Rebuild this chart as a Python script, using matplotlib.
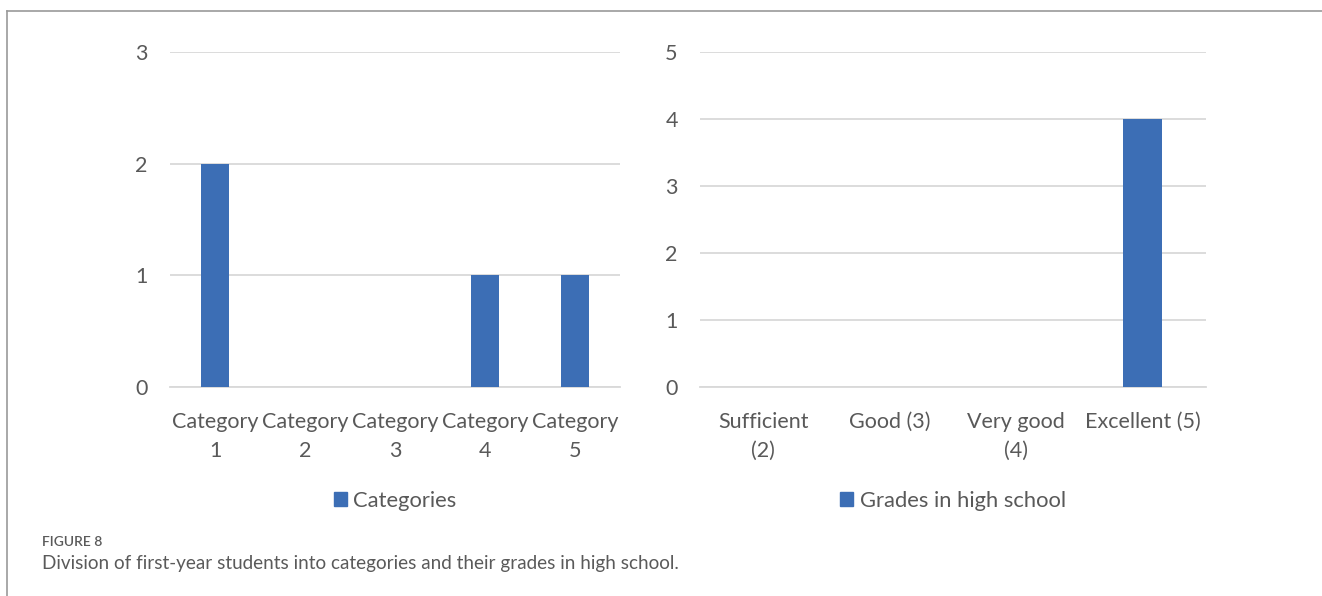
import matplotlib.pyplot as plt
from matplotlib.patches import Patch
from matplotlib.lines import Line2D

plt.rcParams['font.family'] = ['Lato', 'DejaVu Sans']

categorias = ['Category\n1', 'Category\n2', 'Category\n3', 'Category\n4', 'Category\n5']
valores_cat = [2, 0, 0, 1, 1]

notas = ['Sufficient\n(2)', 'Good (3)', 'Very good\n(4)', 'Excellent (5)']
valores_notas = [0, 0, 0, 4]

azul = '#3c6eb5'
cinza_txt = '#595959'
cinza_grade = '#d9d9d9'

W, H = 1322, 596
fig = plt.figure(figsize=(W / 100, H / 100), dpi=100)

def eixo(x0, x1, y0, y1):
	return fig.add_axes([x0 / W, 1 - y1 / H, (x1 - x0) / W, (y1 - y0) / H])

def desenhar(ax, labels, valores, ymax, legenda):
	x = range(len(labels))
	ax.bar(x, valores, width=0.31, color=azul, zorder=3)
	ax.set_xlim(-0.5, len(labels) - 0.5)
	ax.set_ylim(0, ymax)
	ax.set_yticks(range(ymax + 1))
	ax.yaxis.grid(True, color=cinza_grade, linewidth=1.3, zorder=0)
	ax.set_xticks(list(x))
	ax.set_xticklabels(labels, fontsize=15.5, color=cinza_txt, linespacing=1.55)
	ax.tick_params(axis='both', length=0, labelsize=15.5, labelcolor=cinza_txt)
	ax.tick_params(axis='y', pad=16)
	ax.tick_params(axis='x', pad=18)
	for s in ['top', 'right', 'left']:
		ax.spines[s].set_visible(False)
	ax.spines['bottom'].set_color(cinza_grade)
	ax.spines['bottom'].set_linewidth(1.3)
	ax.legend([Patch(color=azul)], [legenda], loc='center', bbox_to_anchor=(0.5, -0.34),
		frameon=False, fontsize=15.8, labelcolor=cinza_txt, handlelength=0.6,
		handleheight=0.6, handletextpad=0.3)

ax1 = eixo(170, 620, 52, 387)
desenhar(ax1, categorias, valores_cat, 3, 'Categories')

ax2 = eixo(700, 1206, 52, 387)
desenhar(ax2, notas, valores_notas, 5, 'Grades in high school')

# moldura
fig.add_artist(Line2D([7 / W, 1], [1 - 11 / H, 1 - 11 / H], color='#9a9a9a', linewidth=1.2))
fig.add_artist(Line2D([7 / W, 7 / W], [0, 1 - 11 / H], color='#9a9a9a', linewidth=1.2))

fig.text(42 / W, 1 - 542 / H, 'FIGURE 8', fontsize=10, color='#5a5a5a', va='center', weight='semibold')
fig.text(42 / W, 1 - 563 / H, 'Division of first-year students into categories and their grades in high school.',
	fontsize=13.6, color='#5a5a5a', va='center')

plt.savefig('out.png', dpi=100)
